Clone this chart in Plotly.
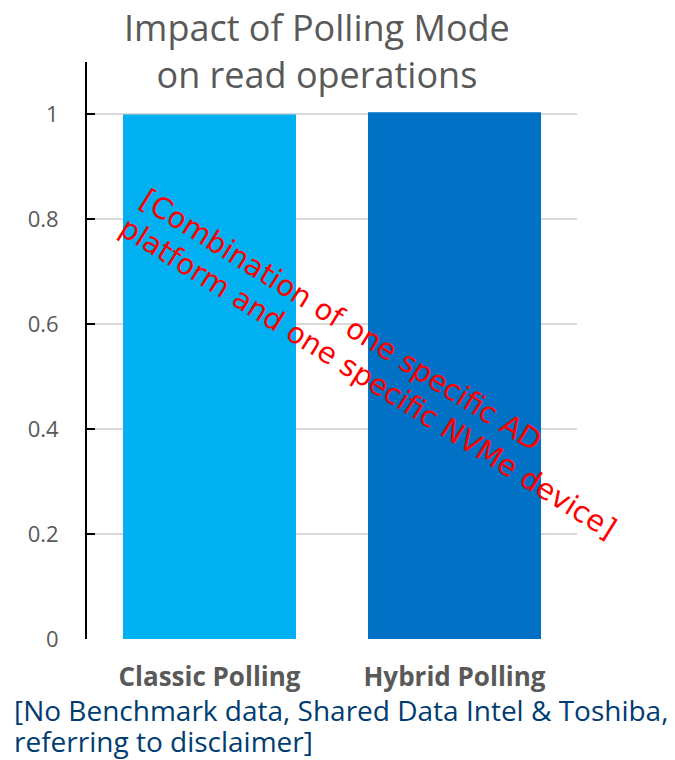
import plotly.graph_objects as go

categories = ["Classic Polling", "Hybrid Polling"]
values = [1.0, 1.004]
bar_colors = ["#00B0F0", "#0071C5"]
y_ticks = [0, 0.2, 0.4, 0.6, 0.8, 1]
y_tick_labels = ["0", "0.2", "0.4", "0.6", "0.8", "1"]
title_text = "Impact of Polling Mode<br>on read operations"
watermark_lines = ["[Combination of one specific AD", "platform and one specific NVMe device]"]
footer_lines = ["[No Benchmark data, Shared Data Intel & Toshiba,", "referring to disclaimer]"]

fig = go.Figure(
    go.Bar(
        x=categories,
        y=values,
        marker=dict(color=bar_colors, line=dict(width=0)),
        width=0.706,
        hoverinfo="skip",
    )
)

annotations = [
    dict(
        text=title_text,
        xref="paper", yref="paper",
        x=0.469, y=1.0,
        xanchor="center", yanchor="bottom",
        yshift=-39,
        showarrow=False,
        font=dict(family="Open Sans", size=36, color="#595959"),
    ),
]
watermark_pos = [(0.518, 0.5529), (0.5735, 0.4524)]
for line, (px, py) in zip(watermark_lines, watermark_pos):
    annotations.append(
        dict(
            text=line,
            xref="paper", yref="paper",
            x=px, y=py,
            xanchor="center", yanchor="middle",
            textangle=32,
            showarrow=False,
            font=dict(family="DejaVu Sans", size=29, color="#FF0000"),
        )
    )
footer_shifts = [-71, -102]
for line, shift in zip(footer_lines, footer_shifts):
    annotations.append(
        dict(
            text=line,
            xref="paper", yref="paper",
            x=-0.153, y=0,
            xanchor="left", yanchor="middle",
            yshift=shift,
            align="left",
            showarrow=False,
            font=dict(family="Open Sans", size=28, color="#003C71"),
        )
    )

fig.update_layout(
    width=675,
    height=760,
    margin=dict(l=87, r=98, t=62, b=121),
    paper_bgcolor="white",
    plot_bgcolor="white",
    showlegend=False,
    font=dict(family="Open Sans", color="#595959"),
    xaxis=dict(
        type="category",
        showgrid=False,
        showline=False,
        ticks="",
        tickfont=dict(family="Open Sans", size=26, color="#595959", weight="bold"),
        ticklabelstandoff=20,
    ),
    yaxis=dict(
        range=[0, 1.1],
        tickvals=y_ticks,
        ticktext=y_tick_labels,
        showgrid=True,
        gridcolor="#D9D9D9",
        gridwidth=2,
        zeroline=False,
        showline=True,
        linecolor="black",
        linewidth=2,
        ticks="inside",
        ticklen=8,
        tickwidth=2,
        tickcolor="black",
        tickfont=dict(family="Open Sans", size=22, color="#595959"),
        ticklabelstandoff=22,
    ),
    annotations=annotations,
)

fig.write_html("out.html")
